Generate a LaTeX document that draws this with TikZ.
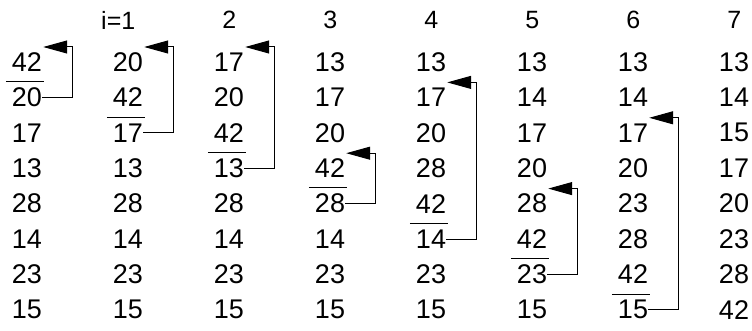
\documentclass[tikz,border=0pt]{standalone}
\usepackage{fontspec}
\setmainfont{Liberation Sans}
\usetikzlibrary{arrows.meta,calc}
\begin{document}
\begin{tikzpicture}[x=1pt,y=-1pt,
  num/.style={inner sep=0pt, font=\fontsize{27}{30}\selectfont},
  head/.style={inner sep=0pt, anchor=east, font=\fontsize{25}{28}\selectfont},
  conn/.style={line width=1pt, -{Triangle[length=24pt,width=13pt]}},
  bar/.style={line width=1.3pt}]
\useasboundingbox (0,0) rectangle (752,331);
\foreach \col/\vals in {0/{42,20,17,13,28,14,23,15},
                        1/{20,42,17,13,28,14,23,15},
                        2/{17,20,42,13,28,14,23,15},
                        3/{13,17,20,42,28,14,23,15},
                        4/{13,17,20,28,42,14,23,15},
                        5/{13,14,17,20,28,42,23,15},
                        6/{13,14,17,20,23,28,42,15},
                        7/{13,14,15,17,20,23,28,42}} {
  \foreach \v [count=\r] in \vals {
    \node[num] (n\col-\r) at ({27+101*\col}, {62+35.4*(\r-1)}) {\v};
  }
}
\foreach \c/\h in {1/i=1,2/2,3/3,4/4,5/5,6/6,7/7} {
  \node[head] (h\c) at ({27+101*\c+7.5}, 20) {\h};
}
\foreach \c/\s/\t in {0/2/1,1/3/1,2/4/1,3/5/4,4/6/2,5/7/5,6/8/3} {
  \draw[bar] ($(n\c-\s.north west)+(-6,-6)$) -- ($(n\c-\s.north east)+(2,-6)$);
  \coordinate (v\c) at ($(n\c-\s.center)+(45,0)$);
  \coordinate (t\c) at ($(n\c-\t.east)+(1,-15)$);
  \draw[conn] (n\c-\s.east) -- (n\c-\s.east -| v\c) -- (v\c |- t\c) -- (t\c);
}
\end{tikzpicture}
\end{document}
